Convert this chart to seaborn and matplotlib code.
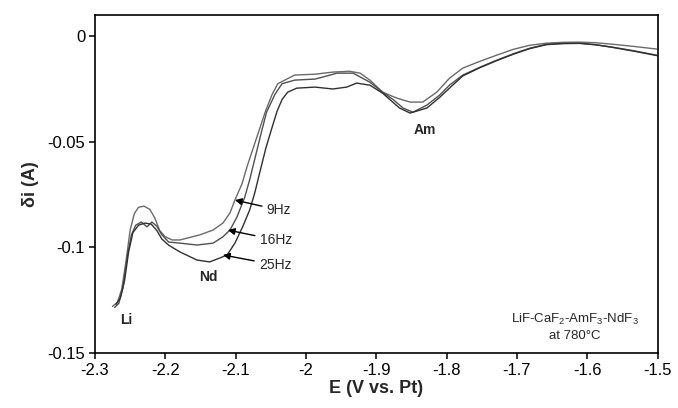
import numpy as np
import pandas as pd
import seaborn as sns
import matplotlib.pyplot as plt
from matplotlib import ticker

# potentials (V vs. Pt) and current differences (A)
x_9hz = [-2.275, -2.268, -2.262, -2.256, -2.250, -2.244, -2.238, -2.230, -2.222,
         -2.215, -2.208, -2.200, -2.190, -2.179, -2.151, -2.132, -2.118, -2.108,
         -2.101, -2.091, -2.083, -2.066, -2.058, -2.048, -2.040, -2.016, -1.987,
         -1.962, -1.938, -1.923, -1.909, -1.891, -1.871, -1.852, -1.834, -1.814,
         -1.796, -1.777, -1.752, -1.729, -1.705, -1.682, -1.658, -1.635, -1.611,
         -1.588, -1.564, -1.532, -1.501]
y_9hz = [-0.128, -0.126, -0.120, -0.107, -0.092, -0.084, -0.081, -0.0805, -0.082,
         -0.086, -0.092, -0.095, -0.0965, -0.0965, -0.0941, -0.0918, -0.0885, -0.0837,
         -0.0776, -0.0700, -0.0610, -0.044, -0.036, -0.0275, -0.0225, -0.0184, -0.018,
         -0.017, -0.0166, -0.0175, -0.0208, -0.0265, -0.0293, -0.0312, -0.0312,
         -0.0265, -0.0199, -0.0151, -0.0118, -0.009, -0.0062, -0.0043, -0.0033,
         -0.0029, -0.0028, -0.0031, -0.0038, -0.0049, -0.0061]

x_16hz = [-2.272, -2.266, -2.260, -2.254, -2.248, -2.242, -2.234, -2.226, -2.219,
          -2.212, -2.205, -2.195, -2.179, -2.155, -2.132, -2.118, -2.108, -2.098,
          -2.087, -2.080, -2.073, -2.063, -2.056, -2.044, -2.034, -2.016, -1.987,
          -1.970, -1.956, -1.933, -1.909, -1.891, -1.876, -1.862, -1.848, -1.828,
          -1.810, -1.796, -1.777, -1.752, -1.729, -1.705, -1.682, -1.658, -1.635,
          -1.611, -1.588, -1.564, -1.532, -1.501]
y_16hz = [-0.1285, -0.1265, -0.119, -0.104, -0.094, -0.0895, -0.088, -0.0903, -0.088,
          -0.090, -0.094, -0.0975, -0.098, -0.0989, -0.098, -0.095, -0.0918, -0.0856,
          -0.0762, -0.068, -0.0585, -0.045, -0.036, -0.0275, -0.0225, -0.0208, -0.0203,
          -0.0188, -0.0175, -0.0175, -0.0218, -0.0265, -0.030, -0.034, -0.036, -0.0326,
          -0.0279, -0.0232, -0.0184, -0.0146, -0.0114, -0.0083, -0.0057, -0.0038,
          -0.0034, -0.0033, -0.0040, -0.0052, -0.0070, -0.009]

x_25hz = [-2.270, -2.264, -2.258, -2.252, -2.246, -2.238, -2.229, -2.220, -2.212,
          -2.205, -2.195, -2.179, -2.155, -2.137, -2.122, -2.112, -2.101, -2.090,
          -2.080, -2.073, -2.066, -2.057, -2.048, -2.041, -2.034, -2.026, -2.013,
          -1.987, -1.962, -1.942, -1.928, -1.909, -1.891, -1.867, -1.852, -1.828,
          -1.810, -1.796, -1.777, -1.752, -1.729, -1.705, -1.682, -1.658, -1.635,
          -1.611, -1.588, -1.564, -1.532, -1.501]
y_25hz = [-0.127, -0.124, -0.116, -0.102, -0.093, -0.0895, -0.0885, -0.089, -0.092,
          -0.096, -0.099, -0.1022, -0.106, -0.1069, -0.105, -0.1036, -0.098, -0.0903,
          -0.0823, -0.0745, -0.065, -0.053, -0.043, -0.0355, -0.030, -0.0265, -0.0246,
          -0.0241, -0.025, -0.0241, -0.0222, -0.0232, -0.027, -0.034, -0.0364, -0.034,
          -0.029, -0.0246, -0.0188, -0.0148, -0.0116, -0.0085, -0.0059, -0.0040,
          -0.0035, -0.0034, -0.0041, -0.0053, -0.0072, -0.0092]

x_ticks = [-2.3, -2.2, -2.1, -2.0, -1.9, -1.8, -1.7, -1.6, -1.5]
y_ticks = [-0.15, -0.1, -0.05, 0]


def main():
    sns.set_style("ticks")
    plt.rcParams['font.family'] = ['Liberation Sans', 'DejaVu Sans']
    plt.rcParams['mathtext.fontset'] = 'custom'
    plt.rcParams['mathtext.rm'] = 'Liberation Sans'
    plt.rcParams['axes.unicode_minus'] = False

    df = pd.concat([
        pd.DataFrame({'E': x_9hz, 'di': y_9hz, 'f': '9Hz'}),
        pd.DataFrame({'E': x_16hz, 'di': y_16hz, 'f': '16Hz'}),
        pd.DataFrame({'E': x_25hz, 'di': y_25hz, 'f': '25Hz'}),
    ])

    fig = plt.figure(figsize=(6.78, 4.08), dpi=100)
    ax = fig.add_axes([0.140, 0.135, 0.830, 0.828])
    sns.lineplot(data=df, x='E', y='di', hue='f', sort=False, estimator=None,
                 palette=['#6a6a6a', '#505050', '#303030'], linewidth=1.0,
                 legend=False, ax=ax)

    ax.set_xlim(-2.3, -1.5)
    ax.set_ylim(-0.15, 0.01)
    ax.set_xticks(x_ticks)
    ax.set_yticks(y_ticks)
    ax.xaxis.set_major_formatter(ticker.FormatStrFormatter('%g'))
    ax.yaxis.set_major_formatter(ticker.FormatStrFormatter('%g'))
    ax.tick_params(direction='out', length=4, width=1.1, labelsize=12,
                   colors='black', pad=3)
    for s in ax.spines.values():
        s.set_linewidth(1.2)
        s.set_color('black')

    ax.set_xlabel('E (V vs. Pt)', fontsize=13, fontweight='bold', labelpad=2)
    ax.set_ylabel('δi (A)', fontsize=13, fontweight='bold', labelpad=6)

    # peak labels
    ax.text(-2.255, -0.1343, 'Li', fontsize=10, fontweight='bold',
            ha='center', va='center')
    ax.text(-2.138, -0.114, 'Nd', fontsize=10, fontweight='bold',
            ha='center', va='center')
    ax.text(-1.831, -0.0445, 'Am', fontsize=10, fontweight='bold',
            ha='center', va='center')

    # frequency labels with arrows
    arrows = [('9Hz', (-2.056, -0.0823), (-2.101, -0.0776)),
              ('16Hz', (-2.066, -0.0965), (-2.111, -0.0918)),
              ('25Hz', (-2.067, -0.1083), (-2.118, -0.1036))]
    for lab, txt, head in arrows:
        ax.annotate(lab, xy=head, xytext=txt, fontsize=10,
                    ha='left', va='center',
                    arrowprops=dict(arrowstyle='-|>', color='black', lw=1.0,
                                    mutation_scale=10, shrinkA=1, shrinkB=0))

    ax.text(-1.618, -0.1378, 'LiF-CaF$_2$-AmF$_3$-NdF$_3$\nat 780°C',
            fontsize=9.5, ha='center', va='center', linespacing=1.3)

    fig.savefig('out.png', dpi=100)


if __name__ == "__main__":
    main()
